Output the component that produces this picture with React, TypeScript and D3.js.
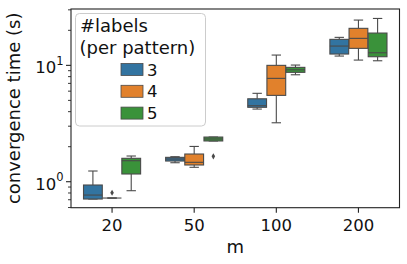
import React from "react";
import * as d3 from "d3";

const categories = ["20", "50", "100", "200"];
const hues = ["3", "4", "5"];
const hueColors = ["#3274a1", "#e1812c", "#3a923a"];

// box statistics per hue (rows) per category (columns)
const whiskerLow = [
  [0.71, 1.456, 4.21, 12.02],
  [0.724, 1.33, 3.21, 11.1],
  [0.837, 2.24, 8.3, 10.95],
];
const q1 = [
  [0.71, 1.506, 4.36, 12.51],
  [0.724, 1.392, 5.52, 14.0],
  [1.165, 2.24, 8.71, 11.86],
];
const median = [
  [0.768, 1.567, 4.5, 14.65],
  [0.724, 1.468, 7.73, 17.06],
  [1.515, 2.33, 9.16, 12.83],
];
const q3 = [
  [0.937, 1.62, 5.16, 16.73],
  [0.724, 1.73, 10.0, 20.8],
  [1.589, 2.42, 9.61, 18.95],
];
const whiskerHigh = [
  [1.236, 1.64, 5.75, 17.4],
  [0.724, 2.01, 12.26, 24.5],
  [1.663, 2.42, 10.06, 25.3],
];
const outlierCat = ["20", "50"];
const outlierHue = [1, 2];
const outlierVal = [0.804, 1.652];

const yMajor = [1, 10];
const yMajorExp = ["0", "1"];
const yMinor = [0.6, 0.7, 0.8, 0.9, 2, 3, 4, 5, 6, 7, 8, 9, 20, 30];

const W = 407, H = 264;
const L = 71, R = 399.5, T = 9, B = 207.7;
const FONT = "DejaVu Sans, sans-serif";
const LINE = "#4a4a4a";
const TXT = "#111";

export default function App() {
  const x = d3.scaleBand().domain(categories).range([L, R]).padding(0);
  const y = d3.scaleLog().domain([0.598, 30.5]).range([B, T]);
  const bw = x.bandwidth();
  const each = (0.7 / hues.length) * bw;
  const boxW = each * 0.98;
  const offset = (h: number) => (h - (hues.length - 1) / 2) * each;
  const capW = boxW * 0.5;
  const diamond = d3.symbol().type(d3.symbolDiamond).size(11)() as string;

  const boxes: React.ReactNode[] = [];
  hues.forEach((hname, h) => {
    categories.forEach((c, i) => {
      const cx = (x(c) as number) + bw / 2 + offset(h);
      const yq1 = y(q1[h][i]);
      const yq3 = y(q3[h][i]);
      const ymed = y(median[h][i]);
      const ylo = y(whiskerLow[h][i]);
      const yhi = y(whiskerHigh[h][i]);
      boxes.push(
        <g key={`${h}-${i}`}>
          <line x1={cx} x2={cx} y1={yq3} y2={yhi} stroke={LINE} strokeWidth={1.1} />
          <line x1={cx} x2={cx} y1={yq1} y2={ylo} stroke={LINE} strokeWidth={1.1} />
          <line x1={cx - capW / 2} x2={cx + capW / 2} y1={yhi} y2={yhi} stroke={LINE} strokeWidth={1.1} />
          <line x1={cx - capW / 2} x2={cx + capW / 2} y1={ylo} y2={ylo} stroke={LINE} strokeWidth={1.1} />
          <rect x={cx - boxW / 2} y={yq3} width={boxW} height={Math.max(yq1 - yq3, 0)} fill={hueColors[h]} stroke={LINE} strokeWidth={1.1} />
          <line x1={cx - boxW / 2} x2={cx + boxW / 2} y1={ymed} y2={ymed} stroke={LINE} strokeWidth={1.1} />
        </g>
      );
    });
  });

  return (
    <svg width={W} height={H} style={{ position: "absolute", left: 0, top: 0, background: "#fff" }} fontFamily={FONT}>
      <rect x={0} y={0} width={W} height={H} fill="#fff" />
      {boxes}
      {outlierVal.map((v, k) => {
        const cx = (x(outlierCat[k]) as number) + bw / 2 + offset(outlierHue[k]);
        return <path key={k} d={diamond} transform={`translate(${cx},${y(v)})`} fill={LINE} />;
      })}
      {/* spines */}
      <rect x={L} y={T} width={R - L} height={B - T} fill="none" stroke="#222" strokeWidth={1.1} />
      {/* x ticks */}
      {categories.map((c) => {
        const cx = (x(c) as number) + bw / 2;
        return (
          <g key={c}>
            <line x1={cx} x2={cx} y1={B} y2={B + 5} stroke="#222" strokeWidth={1.1} />
            <text x={cx} y={231} textAnchor="middle" fontSize={16.5} fill={TXT}>{c}</text>
          </g>
        );
      })}
      {/* y ticks */}
      {yMinor.map((v) => (
        <line key={v} x1={L - 3} x2={L} y1={y(v)} y2={y(v)} stroke="#222" strokeWidth={0.9} />
      ))}
      {yMajor.map((v, k) => (
        <g key={v}>
          <line x1={L - 5} x2={L} y1={y(v)} y2={y(v)} stroke="#222" strokeWidth={1.1} />
          <text x={63.5} y={y(v) + 8} textAnchor="end" fontSize={16.5} fill={TXT}>
            10<tspan fontSize={11.5} dy={-8.5}>{yMajorExp[k]}</tspan>
          </text>
        </g>
      ))}
      <text x={(L + R) / 2} y={253} textAnchor="middle" fontSize={18} fill={TXT}>m</text>
      <text transform={`translate(20,${(T + B) / 2}) rotate(-90)`} textAnchor="middle" fontSize={18} fill={TXT}>
        convergence time (s)
      </text>
      {/* legend */}
      <rect x={75.5} y={13.5} width={130} height={112.5} rx={4} fill="#fff" fillOpacity={0.8} stroke="#cccccc" strokeWidth={1} />
      <text x={80} y={32} fontSize={18} fill={TXT}>#labels</text>
      <text x={79.5} y={53.5} fontSize={18} fill={TXT}>(per pattern)</text>
      {hues.map((hname, h) => {
        const cy = 69.5 + h * 21.8;
        return (
          <g key={hname}>
            <rect x={121} y={cy - 6} width={22} height={12} fill={hueColors[h]} stroke={LINE} strokeWidth={0.8} />
            <text x={147} y={cy + 6} fontSize={16.5} fill={TXT}>{hname}</text>
          </g>
        );
      })}
    </svg>
  );
}
